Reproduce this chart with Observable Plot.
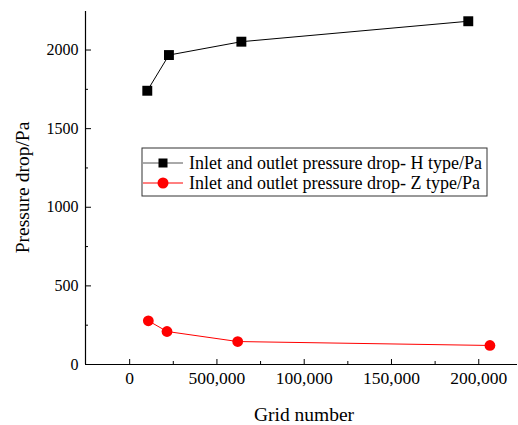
<!DOCTYPE html>
<html>
<head>
<meta charset="utf-8">
<script src="https://cdn.jsdelivr.net/npm/d3@7"></script>
<script src="https://cdn.jsdelivr.net/npm/@observablehq/plot@0.6"></script>
<style>
  html, body { margin: 0; padding: 0; background: #fff; }
  #chart svg { display: block; }
  #chart svg text { font-family: "Liberation Serif", "Times New Roman", serif; }
</style>
</head>
<body>
<div id="chart"></div>
<script>
// Grid-independence study: inlet/outlet pressure drop vs. grid number
const gridH = [10100, 22500, 64000, 194000];
const dropH = [1741, 1968, 2053, 2183];
const gridZ = [10700, 21400, 61900, 206400];
const dropZ = [278, 210, 146, 121];

const seriesNames = [
  "Inlet and outlet pressure drop- H type/Pa",
  "Inlet and outlet pressure drop- Z type/Pa"
];
const seriesColors = ["#000000", "#ff0000"];
const legendLineColors = ["#555555", "#ff0000"];

const xTicks = [0, 50000, 100000, 150000, 200000];
const xTickLabels = ["0", "500,000", "100,000", "150,000", "200,000"];
const xMinorTicks = [25000, 75000, 125000, 175000];
const yTicks = [0, 500, 1000, 1500, 2000];
const yMinorTicks = [250, 750, 1250, 1750];

const xLabel = "Grid number";
const yLabel = "Pressure drop/Pa";

const xDomain = [-25300, 222200];
const yDomain = [0, 2245];

const H = gridH.map((g, i) => ({grid: g, drop: dropH[i]}));
const Z = gridZ.map((g, i) => ({grid: g, drop: dropZ[i]}));

const W = 518, HT = 425;
const m = {left: 85, right: 1, top: 11, bottom: 61};
const serif = "'Liberation Serif', 'Times New Roman', serif";

const plot = Plot.plot({
  width: W,
  height: HT,
  marginLeft: m.left,
  marginRight: m.right,
  marginTop: m.top,
  marginBottom: m.bottom,
  style: {fontFamily: serif, fontSize: "16px", color: "#000", background: "#fff", overflow: "visible"},
  x: {domain: xDomain},
  y: {domain: yDomain},
  marks: [
    Plot.axisX({ticks: xTicks, tickSize: -5, tickPadding: 12, tickFormat: d => xTickLabels[xTicks.indexOf(d)], label: null, fontSize: 17.5}),
    Plot.axisX({ticks: xMinorTicks, tickSize: -3, tickFormat: () => "", label: null}),
    Plot.axisY({ticks: yTicks, tickSize: -6, tickPadding: 13, tickFormat: d3.format("d"), label: null, fontSize: 16}),
    Plot.axisY({ticks: yMinorTicks, tickSize: -3, tickFormat: () => "", label: null}),
    Plot.ruleX([xDomain[0]], {stroke: "#000", strokeWidth: 1.2}),
    Plot.ruleY([yDomain[0]], {stroke: "#000", strokeWidth: 1.2}),
    Plot.line(H, {x: "grid", y: "drop", stroke: seriesColors[0], strokeWidth: 1}),
    Plot.dot(H, {x: "grid", y: "drop", symbol: "square", r: 5.6, fill: seriesColors[0], stroke: "none"}),
    Plot.line(Z, {x: "grid", y: "drop", stroke: seriesColors[1], strokeWidth: 1}),
    Plot.dot(Z, {x: "grid", y: "drop", symbol: "circle", r: 5.4, fill: seriesColors[1], stroke: "none"})
  ]
});

const svg = d3.select(plot);

// Axis titles
svg.append("text")
  .attr("x", 304).attr("y", 421)
  .attr("text-anchor", "middle")
  .attr("font-size", 19.5).attr("fill", "#000")
  .text(xLabel);

svg.append("text")
  .attr("transform", `translate(29,${(m.top + HT - m.bottom) / 2}) rotate(-90)`)
  .attr("text-anchor", "middle")
  .attr("font-size", 19.5).attr("fill", "#000")
  .text(yLabel);

// Legend box
const lg = svg.append("g").attr("transform", "translate(142,148)");
lg.append("rect").attr("x", 0).attr("y", 0).attr("width", 345).attr("height", 48)
  .attr("fill", "#fff").attr("stroke", "#333").attr("stroke-width", 1);
seriesNames.forEach((name, i) => {
  const cy = 15 + i * 20;
  lg.append("path").attr("d", `M1,${cy}H41`)
    .attr("fill", "none")
    .attr("stroke", legendLineColors[i]).attr("stroke-width", 1);
  if (i === 0) {
    lg.append("rect").attr("x", 16.5).attr("y", cy - 4.5).attr("width", 9).attr("height", 9).attr("fill", seriesColors[i]);
  } else {
    lg.append("circle").attr("cx", 21).attr("cy", cy).attr("r", 5.5).attr("fill", seriesColors[i]);
  }
  lg.append("text").attr("x", 47).attr("y", cy).attr("dy", "0.35em")
    .attr("text-anchor", "start")
    .attr("font-size", 18).attr("fill", "#000")
    .text(name);
});

document.getElementById("chart").appendChild(plot);
</script>
</body>
</html>
